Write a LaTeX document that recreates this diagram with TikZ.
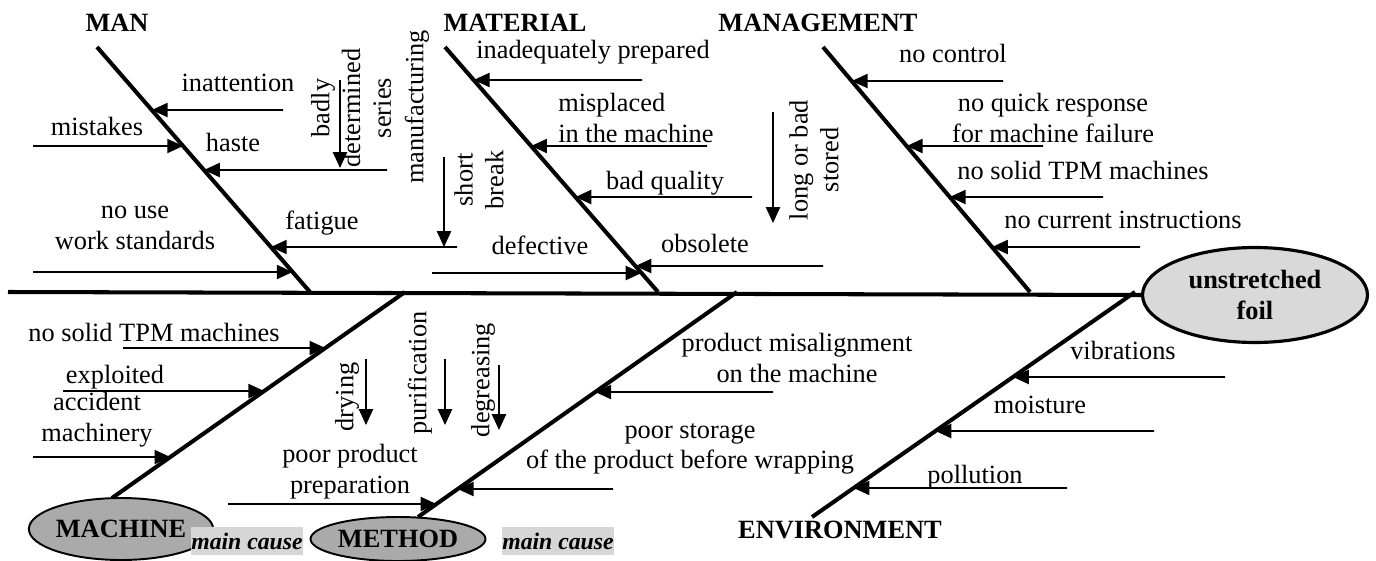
\documentclass[tikz,border=0pt]{standalone}
\usepackage{fontspec}
\setmainfont{Liberation Serif}
\usetikzlibrary{arrows.meta,shapes.geometric,calc}
\definecolor{headgray}{RGB}{217,217,217}
\definecolor{causegray}{RGB}{170,170,170}
\definecolor{taggray}{RGB}{214,214,214}
\tikzset{
  bone/.style={line width=2.3pt},
  twig/.style={-{Triangle[length=9pt,width=8pt]}, line width=1.1pt},
  cause/.style={font=\fontsize{15}{17.5}\selectfont, align=center, inner sep=0pt},
  category/.style={font=\fontsize{15}{17.5}\selectfont\bfseries, inner sep=0pt},
  effect/.style={ellipse, draw, line width=1.8pt, fill=headgray, align=center,
                 font=\fontsize{15}{17.5}\selectfont\bfseries, inner sep=0pt,
                 minimum width=4.5cm, minimum height=1.9cm},
  mainbone/.style={ellipse, draw, line width=1.1pt, fill=causegray, inner sep=0pt,
                   font=\fontsize{15}{17.5}\selectfont\bfseries,
                   minimum width=3.5cm, minimum height=1.24cm},
  causetag/.style={fill=taggray, font=\fontsize{13.5}{16}\selectfont\bfseries\itshape,
                   minimum width=2.26cm, minimum height=0.56cm, inner sep=0pt},
}
% horizontal cause arrow from x=#2 onto bone #1 at height #3
\newcommand{\twig}[3]{%
  \draw[twig] (#2,#3) -- (intersection cs:first line={(#1T)--(#1B)}, second line={(0,#3)--(10,#3)});}
% vertical sub-cause arrow
\newcommand{\drop}[3]{\draw[twig] (#1,#2) -- (#1,#3);}

\begin{document}
\begin{tikzpicture}[x=0.02cm, y=-0.02cm]
\useasboundingbox (0,0) rectangle (1376,561);

% head and spine
\node[effect] (foil) at (1255,295) {unstretched\\foil};
\coordinate (tail) at (8,292);
\draw[bone] (tail) -- (foil.west);

% bones
\coordinate (manT) at (97,47);    \coordinate (manB) at (310,292);
\coordinate (matT) at (445,47);   \coordinate (matB) at (658,292);
\coordinate (mgtT) at (823,47);   \coordinate (mgtB) at (1030,292);
\coordinate (macT) at (405,292);  \coordinate (macB) at (112,498);
\coordinate (metT) at (737,292);  \coordinate (metB) at (418,517);
\coordinate (envT) at (1135,292); \coordinate (envB) at (812,517);
\foreach \b in {man,mat,mgt,mac,met,env}
  \draw[bone] (\b T) -- (\b B);

% category names
\node[category] (man) at (117,23) {MAN};
\node[category] (mat) at (515,23) {MATERIAL};
\node[category] (mgt) at (818,23) {MANAGEMENT};
\node[category] (env) at (840,530) {ENVIRONMENT};
\node[mainbone] (machine) at (121,529) {MACHINE};
\node[mainbone, minimum height=0.88cm] (method) at (398,539) {METHOD};
\node[causetag] (tag1) at (247,541) {main cause};
\node[causetag] (tag2) at (558,541) {main cause};

% MAN
\twig{man}{283}{110} \twig{man}{33}{146} \twig{man}{387}{170}
\twig{man}{457}{247} \twig{man}{33}{272}
\drop{340}{80}{168} \drop{444}{157}{247}
\node[cause] (inatt) at (238,83) {inattention};
\node[cause] (mist) at (97,126) {mistakes};
\node[cause] (haste) at (233,142) {haste};
\node[cause] (fatig) at (322,223) {fatigue};
\node[cause] (nouse) at (135,228) {no use\\work standards};
\node[cause, rotate=90] (series) at (351,108) {badly\\determined\\series};
\node[cause, rotate=90] (manuf) at (417,107) {manufacturing};
\node[cause, rotate=90] (brk) at (479,180) {short\\break};

% MATERIAL
\twig{mat}{642}{80} \twig{mat}{707}{146} \twig{mat}{752}{197}
\twig{mat}{432}{273} \twig{mat}{823}{266}
\drop{773}{112}{223}
\node[cause] (inadq) at (593,52) {inadequately prepared};
\node[cause, align=left, anchor=west] (mispl) at (558,118) {misplaced\\in the machine};
\node[cause] (badq) at (665,183) {bad quality};
\node[cause] (defect) at (540,245) {defective};
\node[cause] (obsol) at (705,243) {obsolete};
\node[cause, rotate=90] (stored) at (814,160) {long or bad\\stored};

% MANAGEMENT
\twig{mgt}{1003}{81} \twig{mgt}{1043}{146} \twig{mgt}{1103}{197} \twig{mgt}{1140}{247}
\node[cause] (noctl) at (953,53) {no control};
\node[cause] (noquick) at (1053,118) {no quick response\\for machine failure};
\node[cause] (notpm) at (1083,170) {no solid TPM machines};
\node[cause] (noinstr) at (1123,220) {no current instructions};

% MACHINE
\twig{mac}{123}{348} \twig{mac}{63}{391} \twig{mac}{33}{457}
\node[cause] (mtpm) at (154,332) {no solid TPM machines};
\node[cause] (exploit) at (115,377) {exploited};
\node[cause] (accid) at (97,420) {accident\\machinery};

% METHOD
\twig{met}{228}{504} \twig{met}{773}{392} \twig{met}{613}{489}
\drop{366}{359}{425} \drop{445}{359}{425} \drop{499}{365}{430}
\node[cause] (prep) at (350,472) {poor product\\preparation};
\node[cause, rotate=90] (dry) at (347,397) {drying};
\node[cause, rotate=90] (purif) at (420,373) {purification};
\node[cause, rotate=90] (degr) at (483,380) {degreasing};
\node[cause] (misal) at (797,358) {product misalignment\\on the machine};
\node[cause] (storage) at (690,449) {poor storage\\of the product before wrapping};

% ENVIRONMENT
\twig{env}{1225}{377} \twig{env}{1154}{431} \twig{env}{1067}{488}
\node[cause] (vibr) at (1123,350) {vibrations};
\node[cause] (moist) at (1040,405) {moisture};
\node[cause] (poll) at (975,477) {pollution};
\end{tikzpicture}
\end{document}
